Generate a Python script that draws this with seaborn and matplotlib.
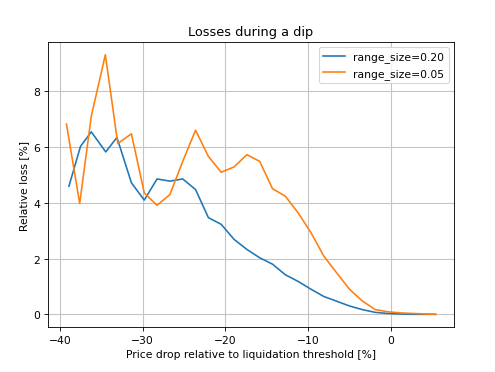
import matplotlib
matplotlib.use("Agg")
import matplotlib.pyplot as plt
import seaborn as sns
import pandas as pd

# Data
x_020 = [-38.9, -37.5, -36.2, -34.45, -33.1, -31.35, -29.8, -28.25, -26.7, -25.15,
         -23.6, -22.05, -20.5, -18.95, -17.4, -15.85, -14.3, -12.75, -11.2, -9.65,
         -8.1, -6.55, -5.0, -3.45, -1.9, -0.35, 1.2, 2.75, 4.3, 5.4]
loss_020 = [4.60, 6.03, 6.55, 5.83, 6.35, 4.72, 4.10, 4.86, 4.78, 4.86,
            4.48, 3.47, 3.23, 2.69, 2.33, 2.03, 1.80, 1.42, 1.18, 0.90,
            0.64, 0.47, 0.30, 0.17, 0.07, 0.03, 0.01, 0.0, 0.0, 0.0]

x_005 = [-39.2, -37.6, -36.2, -34.5, -33.0, -31.35, -29.8, -28.25, -26.7, -25.15,
         -23.6, -22.05, -20.5, -18.95, -17.4, -15.85, -14.3, -12.75, -11.2, -9.65,
         -8.1, -6.55, -5.0, -3.45, -1.9, -0.35, 1.2, 2.75, 4.3, 5.4]
loss_005 = [6.83, 3.98, 7.11, 9.32, 6.13, 6.48, 4.36, 3.91, 4.30, 5.49,
            6.61, 5.67, 5.10, 5.29, 5.73, 5.49, 4.51, 4.24, 3.64, 2.93,
            2.09, 1.49, 0.90, 0.48, 0.17, 0.09, 0.05, 0.03, 0.01, 0.0]

labels = ["range_size=0.20", "range_size=0.05"]

df = pd.concat([
    pd.DataFrame({"x": x_020, "loss": loss_020, "series": labels[0]}),
    pd.DataFrame({"x": x_005, "loss": loss_005, "series": labels[1]}),
], ignore_index=True)

plt.rcParams.update(plt.rcParamsDefault)
plt.rcParams["font.family"] = ["DejaVu Sans"]

dpi = 77.34
fig = plt.figure(figsize=(495 / dpi, 373 / dpi), dpi=dpi)
ax = fig.add_axes([48 / 495, (373 - 328.3) / 373, 406 / 495, (328.3 - 42.7) / 373])

sns.lineplot(data=df, x="x", y="loss", hue="series", hue_order=labels,
             palette=["#1f77b4", "#ff7f0e"], ax=ax, sort=False, estimator=None)

ax.grid(True, color="#c4c4c4", linewidth=1.0)
ax.set_axisbelow(True)
ax.set_title("Losses during a dip")
ax.set_xlabel("Price drop relative to liquidation threshold [%]")
ax.set_ylabel("Relative loss [%]")
ax.set_xticks([-40, -30, -20, -10, 0])
ax.set_yticks([0, 2, 4, 6, 8])
ax.legend(title=None, loc="upper right")

fig.savefig("out.png", dpi=dpi)
